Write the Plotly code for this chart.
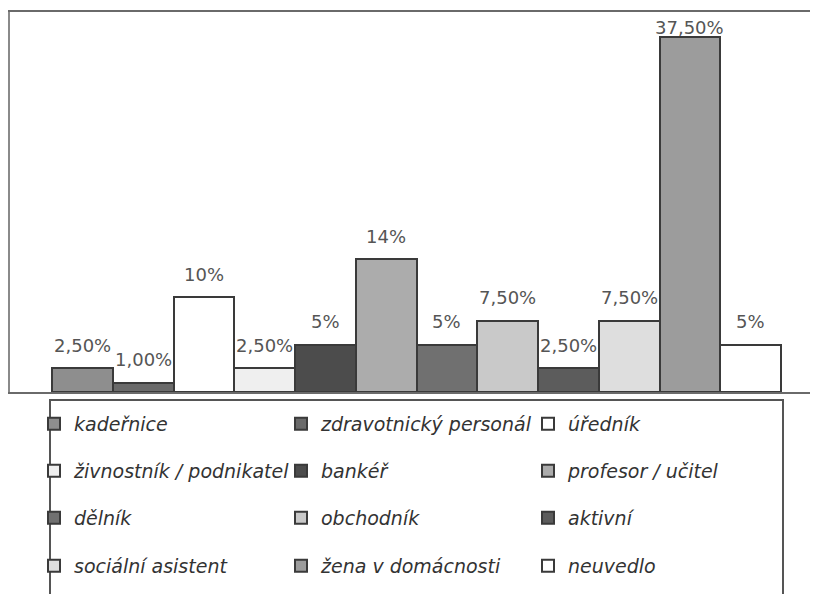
import plotly.graph_objects as go

categories = ["kadeřnice", "zdravotnický personál", "úředník",
              "živnostník / podnikatel", "bankéř", "profesor / učitel",
              "dělník", "obchodník", "aktivní",
              "sociální asistent", "žena v domácnosti", "neuvedlo"]
values = [2.5, 1.0, 10, 2.5, 5, 14, 5, 7.5, 2.5, 7.5, 37.5, 5]
value_labels = ["2,50%", "1,00%", "10%", "2,50%", "5%", "14%",
                "5%", "7,50%", "2,50%", "7,50%", "37,50%", "5%"]
bar_colors = ["#8e8e8e", "#6a6a6a", "#ffffff", "#efefef", "#4c4c4c", "#acacac",
              "#707070", "#c9c9c9", "#5c5c5c", "#dedede", "#9c9c9c", "#ffffff"]

Y_MAX = 40.1

# page body keeps a default 8px margin, so the figure is drawn 8px in/down
OFF = 8
W, H = 818 - OFF, 594 - OFF
ml, mr, mt, mb = 10 - OFF, 0, 12 - OFF, H - (392 - OFF)
plot_w = W - ml - mr
plot_h = H - mt - mb

def px_x(p):  # screen px -> paper x
    return (p - OFF - ml) / plot_w

def px_y(p):  # screen px -> paper y
    return (H - mb - (p - OFF)) / plot_h

# category axis: bars 60.75px wide starting 42px right of the plot's left edge
unit_px = 729 / len(categories)
x0 = -0.5 - 42 / unit_px
x_range = [x0, x0 + plot_w / unit_px]
px_per_val = plot_h / Y_MAX

fig = go.Figure()
row_legends = ["legend", "legend2", "legend3", "legend4"]
annotations = []
for i, (name, v, lab, col) in enumerate(zip(categories, values, value_labels, bar_colors)):
    fig.add_trace(go.Bar(
        x=[name], y=[v], name=name,
        marker=dict(color=col, line=dict(color="#3a3a3a", width=2)),
        legend=row_legends[i // 3],
        hoverinfo="skip",
    ))
    room = (Y_MAX - v) * px_per_val  # px between bar top and plot top
    annotations.append(dict(
        x=name, y=v, xref="x", yref="y", text=lab, showarrow=False,
        yanchor="middle", yshift=min(23, room - 15),
        font=dict(family="DejaVu Sans", size=18, color="#555555"),
    ))

legend_common = dict(
    orientation="h", bgcolor="rgba(0,0,0,0)", borderwidth=0,
    font=dict(family="DejaVu Sans", size=19, color="#333333", style="italic"),
    entrywidth=202, entrywidthmode="pixels", xanchor="left", yanchor="middle",
    itemwidth=30, traceorder="normal",
)
row_centers = [424, 471, 518, 566]
layout_legends = {}
for k, rc in enumerate(row_centers):
    layout_legends[row_legends[k]] = dict(legend_common, x=px_x(34), y=px_y(rc))

fig.update_layout(
    width=W, height=H,
    margin=dict(l=ml, r=mr, t=mt, b=mb, autoexpand=False),
    paper_bgcolor="white", plot_bgcolor="white",
    barmode="overlay", bargap=0,
    showlegend=True,
    xaxis=dict(type="category", range=x_range, showticklabels=False, showgrid=False,
               zeroline=False, showline=True, linecolor="#6a6a6a", linewidth=2,
               mirror=True, ticks=""),
    yaxis=dict(range=[0, Y_MAX], showticklabels=False, showgrid=False, zeroline=False,
               showline=True, linecolor="#8a8a8a", linewidth=2, ticks=""),
    shapes=[dict(type="rect", xref="paper", yref="paper",
                 x0=px_x(50), x1=px_x(783), y0=px_y(600), y1=px_y(400),
                 line=dict(color="#555555", width=2), fillcolor="rgba(0,0,0,0)")],
    annotations=annotations,
    **layout_legends,
)

fig.write_html("out.html")
